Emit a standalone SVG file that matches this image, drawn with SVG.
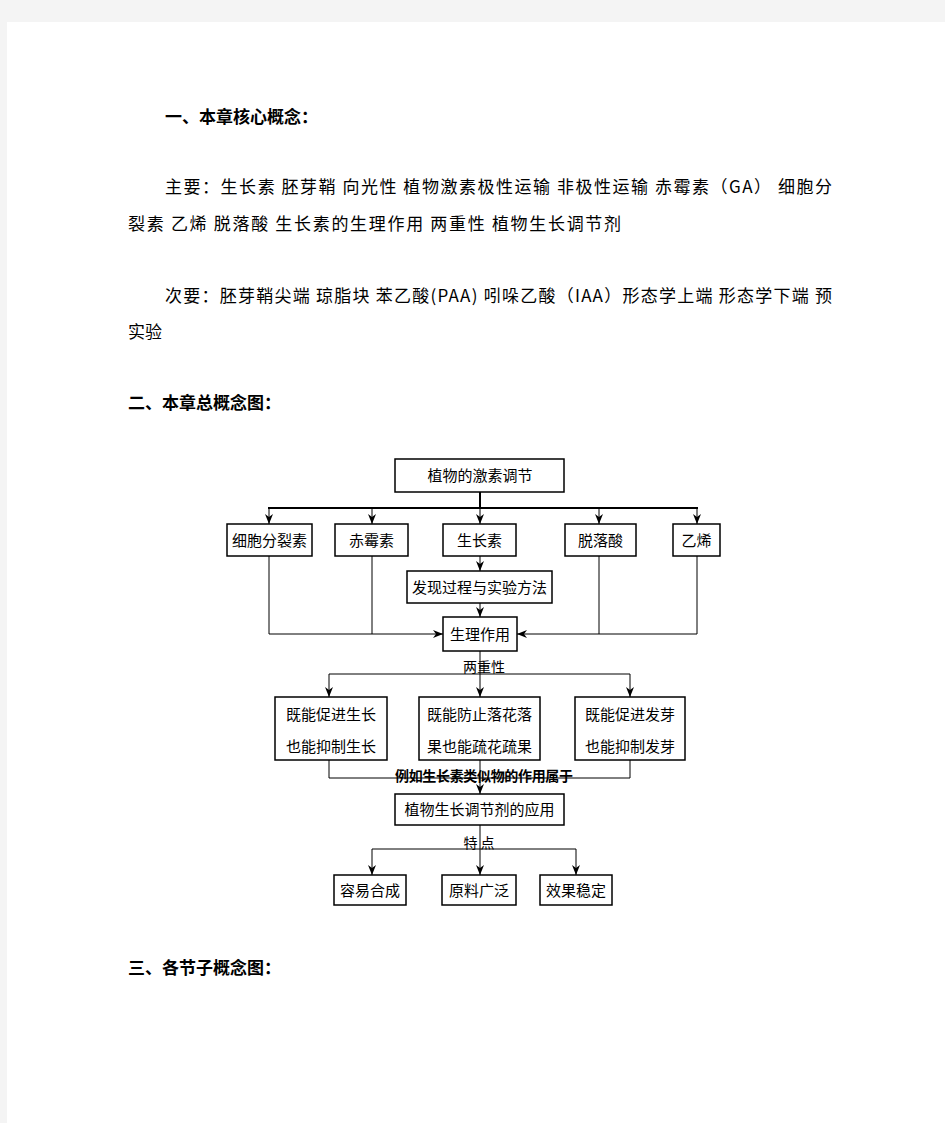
<svg xmlns="http://www.w3.org/2000/svg" width="945" height="1123" viewBox="0 0 945 1123">
<defs>
<style>
.h{font-family:"Noto Sans CJK SC","Liberation Sans",sans-serif;font-size:17px;font-weight:bold;fill:#000}
.t{font-family:"Noto Sans CJK SC","Liberation Sans",sans-serif;font-size:17px;fill:#000}
.bx{fill:#fff;stroke:#000;stroke-width:1.5}
.lb{font-family:"Noto Sans CJK SC","Liberation Sans",sans-serif;font-size:15px;fill:#000;text-anchor:middle}
.sm{font-family:"Noto Sans CJK SC","Liberation Sans",sans-serif;font-size:14px;fill:#000;text-anchor:middle}
.ln{fill:none;stroke:#000;stroke-width:1}
.lt{fill:none;stroke:#000;stroke-width:2}
.ar{marker-end:url(#ah)}
</style>
<marker id="ah" viewBox="0 0 10 8" refX="10" refY="4" markerWidth="10" markerHeight="8" markerUnits="userSpaceOnUse" orient="auto">
<path d="M0,0 L10,4 L0,8 L3,4 z" fill="#000"/>
</marker>
</defs>
<rect x="0" y="0" width="945" height="1123" fill="#f4f4f4"/>
<rect x="7" y="22" width="938" height="1101" fill="#fff"/>

<text class="h" x="165" y="123">一、本章核心概念：</text>
<text class="t" x="165" y="193" textLength="667" lengthAdjust="spacing">主要：生长素 胚芽鞘 向光性 植物激素极性运输 非极性运输 赤霉素（GA） 细胞分</text>
<text class="t" x="128" y="230" textLength="493" lengthAdjust="spacing">裂素 乙烯 脱落酸 生长素的生理作用 两重性 植物生长调节剂</text>
<text class="t" x="165" y="302" textLength="667" lengthAdjust="spacing">次要：胚芽鞘尖端 琼脂块 苯乙酸(PAA) 吲哚乙酸（IAA）形态学上端 形态学下端 预</text>
<text class="t" x="128" y="338">实验</text>
<text class="h" x="128" y="409">二、本章总概念图：</text>
<text class="h" x="128" y="974">三、各节子概念图：</text>

<g id="connectors">
<path class="lt" d="M480,492 V508 M268,508 H698"/>
<path class="ln ar" d="M269,508 V524"/>
<path class="ln ar" d="M372,508 V524"/>
<path class="ln ar" d="M480,508 V524"/>
<path class="ln ar" d="M599,508 V524"/>
<path class="ln ar" d="M697,508 V524"/>
<path class="ln ar" d="M480,556 V571"/>
<path class="ln ar" d="M480,603 V617"/>
<path class="ln ar" d="M269,556 V634 H443"/>
<path class="ln" d="M372,556 V634"/>
<path class="ln ar" d="M697,556 V634 H517"/>
<path class="ln" d="M599,556 V634"/>
<path class="ln ar" d="M480,651 V697"/>
<path class="ln" d="M329,674 H630"/>
<path class="ln ar" d="M329,674 V697"/>
<path class="ln ar" d="M630,674 V697"/>
<path class="ln" d="M329,760 V778 H630 V760"/>
<path class="ln ar" d="M480,760 V794"/>
<path class="ln ar" d="M480,825 V875"/>
<path class="ln" d="M372,849 H576"/>
<path class="ln ar" d="M372,849 V875"/>
<path class="ln ar" d="M576,849 V875"/>
<text class="sm" x="484" y="672">两重性</text>
<text class="sm" x="484" y="781" textLength="178" lengthAdjust="spacing" font-weight="bold">例如生长素类似物的作用属于</text>
<text class="sm" x="479" y="848">特 点</text>
</g>

<g id="n-root"><rect class="bx" x="395" y="459" width="169" height="33"/><text class="lb" x="480" y="481">植物的激素调节</text></g>
<g id="n-ck"><rect class="bx" x="227" y="524" width="85" height="32"/><text class="lb" x="269.5" y="546">细胞分裂素</text></g>
<g id="n-ga"><rect class="bx" x="335" y="524" width="73" height="32"/><text class="lb" x="371.5" y="546">赤霉素</text></g>
<g id="n-iaa"><rect class="bx" x="443" y="524" width="73" height="32"/><text class="lb" x="479.5" y="546">生长素</text></g>
<g id="n-aba"><rect class="bx" x="565" y="524" width="71" height="32"/><text class="lb" x="600.5" y="546">脱落酸</text></g>
<g id="n-eth"><rect class="bx" x="673" y="524" width="47" height="32"/><text class="lb" x="696.5" y="546">乙烯</text></g>
<g id="n-disc"><rect class="bx" x="407" y="571" width="145" height="32"/><text class="lb" x="479.5" y="593">发现过程与实验方法</text></g>
<g id="n-phys"><rect class="bx" x="443" y="617" width="74" height="34"/><text class="lb" x="480" y="640">生理作用</text></g>
<g id="n-b1"><rect class="bx" x="275" y="697" width="112" height="63"/><text class="lb" x="331" y="720">既能促进生长</text><text class="lb" x="331" y="752">也能抑制生长</text></g>
<g id="n-b2"><rect class="bx" x="419" y="697" width="121" height="63"/><text class="lb" x="479.5" y="720">既能防止落花落</text><text class="lb" x="479.5" y="752">果也能疏花疏果</text></g>
<g id="n-b3"><rect class="bx" x="575" y="697" width="110" height="63"/><text class="lb" x="630" y="720">既能促进发芽</text><text class="lb" x="630" y="752">也能抑制发芽</text></g>
<g id="n-app"><rect class="bx" x="395" y="794" width="169" height="31"/><text class="lb" x="479.5" y="815">植物生长调节剂的应用</text></g>
<g id="n-c1"><rect class="bx" x="334" y="875" width="72" height="30"/><text class="lb" x="370" y="896">容易合成</text></g>
<g id="n-c2"><rect class="bx" x="442" y="875" width="74" height="30"/><text class="lb" x="479" y="896">原料广泛</text></g>
<g id="n-c3"><rect class="bx" x="540" y="875" width="72" height="30"/><text class="lb" x="576" y="896">效果稳定</text></g>
</svg>
